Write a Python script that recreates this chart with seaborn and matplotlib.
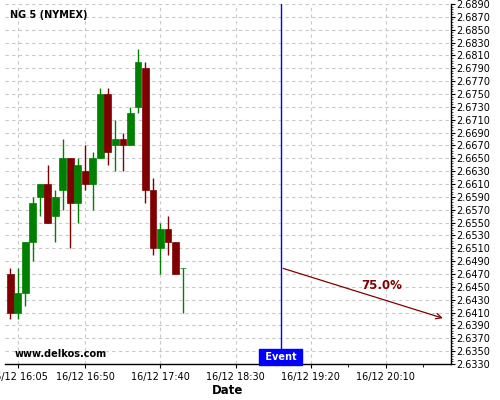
import matplotlib
matplotlib.use("Agg")
import matplotlib.pyplot as plt
import matplotlib.ticker as mticker
import numpy as np
import pandas as pd
import seaborn as sns

# 5-minute candles from 16/12 16:00
opens = [2.6470, 2.6410, 2.6440, 2.6520, 2.6590, 2.6610, 2.6560, 2.6600, 2.6650, 2.6580, 2.6630, 2.6610,
         2.6650, 2.6750, 2.6670, 2.6680, 2.6670, 2.6730, 2.6790, 2.6600, 2.6510, 2.6540, 2.6520, 2.6480]
highs = [2.6480, 2.6480, 2.6520, 2.6590, 2.6610, 2.6640, 2.6600, 2.6680, 2.6650, 2.6650, 2.6670, 2.6660,
         2.6760, 2.6760, 2.6710, 2.6690, 2.6730, 2.6820, 2.6800, 2.6620, 2.6550, 2.6560, 2.6520, 2.6480]
lows = [2.6400, 2.6400, 2.6420, 2.6490, 2.6560, 2.6550, 2.6520, 2.6570, 2.6510, 2.6550, 2.6600, 2.6570,
        2.6650, 2.6640, 2.6630, 2.6630, 2.6670, 2.6720, 2.6580, 2.6500, 2.6470, 2.6500, 2.6470, 2.6410]
closes = [2.6410, 2.6440, 2.6520, 2.6580, 2.6610, 2.6550, 2.6590, 2.6650, 2.6580, 2.6640, 2.6610, 2.6650,
          2.6750, 2.6660, 2.6680, 2.6670, 2.6720, 2.6800, 2.6600, 2.6510, 2.6540, 2.6520, 2.6470, 2.6480]

tick_pos = [1, 10, 20, 30, 40, 50]
tick_labels = ["16/12 16:05", "16/12 16:50", "16/12 17:40", "16/12 18:30", "16/12 19:20", "16/12 20:10"]

event_idx = 36
target_idx = 58
target_price = 2.6400
probability = "75.0%"

GREEN = "#008000"
RED = "#800000"

df = pd.DataFrame({"open": opens, "high": highs, "low": lows, "close": closes})
df["idx"] = np.arange(len(df))
df["color"] = np.where(df["close"] >= df["open"], GREEN, RED)

sns.set_style("white")
plt.rcParams["font.family"] = ["DejaVu Sans"]
plt.rcParams.update({"text.color": "black", "axes.labelcolor": "black",
                     "xtick.color": "black", "ytick.color": "black"})

fig = plt.figure(figsize=(5, 4), dpi=100)
ax = fig.add_axes([0.01, 0.09, 0.892, 0.9])

ax.grid(True, color="#c8c8c8", linestyle=(0, (3, 3)), linewidth=0.8)
ax.set_axisbelow(True)

# wicks and bodies
ax.vlines(df["idx"], df["low"], df["high"], colors=df["color"], linewidth=1.0, zorder=2)
ax.bar(df["idx"], df["close"] - df["open"], bottom=df["open"], width=0.93,
       color=df["color"], edgecolor=df["color"], linewidth=0.5, zorder=3)

# event marker
ax.axvline(event_idx, color="#0000ff", linewidth=1.0, zorder=4)
ax.text(event_idx, 0.019, " Event ", transform=ax.get_xaxis_transform(), ha="center", va="center",
        color="white", fontsize=7, fontweight="bold", zorder=6,
        bbox=dict(boxstyle="square,pad=0.3", facecolor="#0000ff", edgecolor="#0000ff"))

# forecast arrow
ax.annotate("", xy=(target_idx, target_price), xytext=(event_idx, closes[-1]),
            arrowprops=dict(arrowstyle="->", color=RED, linewidth=0.9, mutation_scale=10), zorder=5)
ax.text(49.5, 2.6452, probability, color=RED, fontsize=8.5, fontweight="bold", ha="center", va="center")

ax.set_xlim(-0.73, 58.73)
ax.set_ylim(2.6330, 2.6890)

ax.set_xticks(tick_pos)
ax.set_xticklabels(tick_labels)
ax.xaxis.set_minor_locator(mticker.FixedLocator([45, 55]))
ax.yaxis.tick_right()
ax.yaxis.set_major_locator(mticker.MultipleLocator(0.002, offset=0.001))
ax.yaxis.set_minor_locator(mticker.AutoMinorLocator(5))
ax.yaxis.set_major_formatter(mticker.FormatStrFormatter("%.4f"))
ax.tick_params(axis="y", which="major", length=3, width=0.8, labelsize=7, pad=1, colors="black", direction="out")
ax.tick_params(axis="y", which="minor", length=1.5, width=0.5, direction="out", right=True)
ax.tick_params(axis="x", which="major", length=3, width=0.8, labelsize=7, pad=3, direction="out", bottom=True)
ax.tick_params(axis="x", which="minor", length=2, width=0.6, direction="out", bottom=True)

for side in ["left", "top"]:
    ax.spines[side].set_visible(False)
for side in ["right", "bottom"]:
    ax.spines[side].set_color("black")
    ax.spines[side].set_linewidth(1.0)

ax.set_xlabel("Date", fontsize=8.5, fontweight="bold", labelpad=1)

ax.text(0.011, 0.969, "NG 5 (NYMEX)", transform=ax.transAxes, fontsize=7, fontweight="bold", va="center", ha="left")
ax.text(0.022, 0.028, "www.delkos.com", transform=ax.transAxes, fontsize=7, fontweight="bold", va="center", ha="left")

fig.savefig("out.png", dpi=100)
